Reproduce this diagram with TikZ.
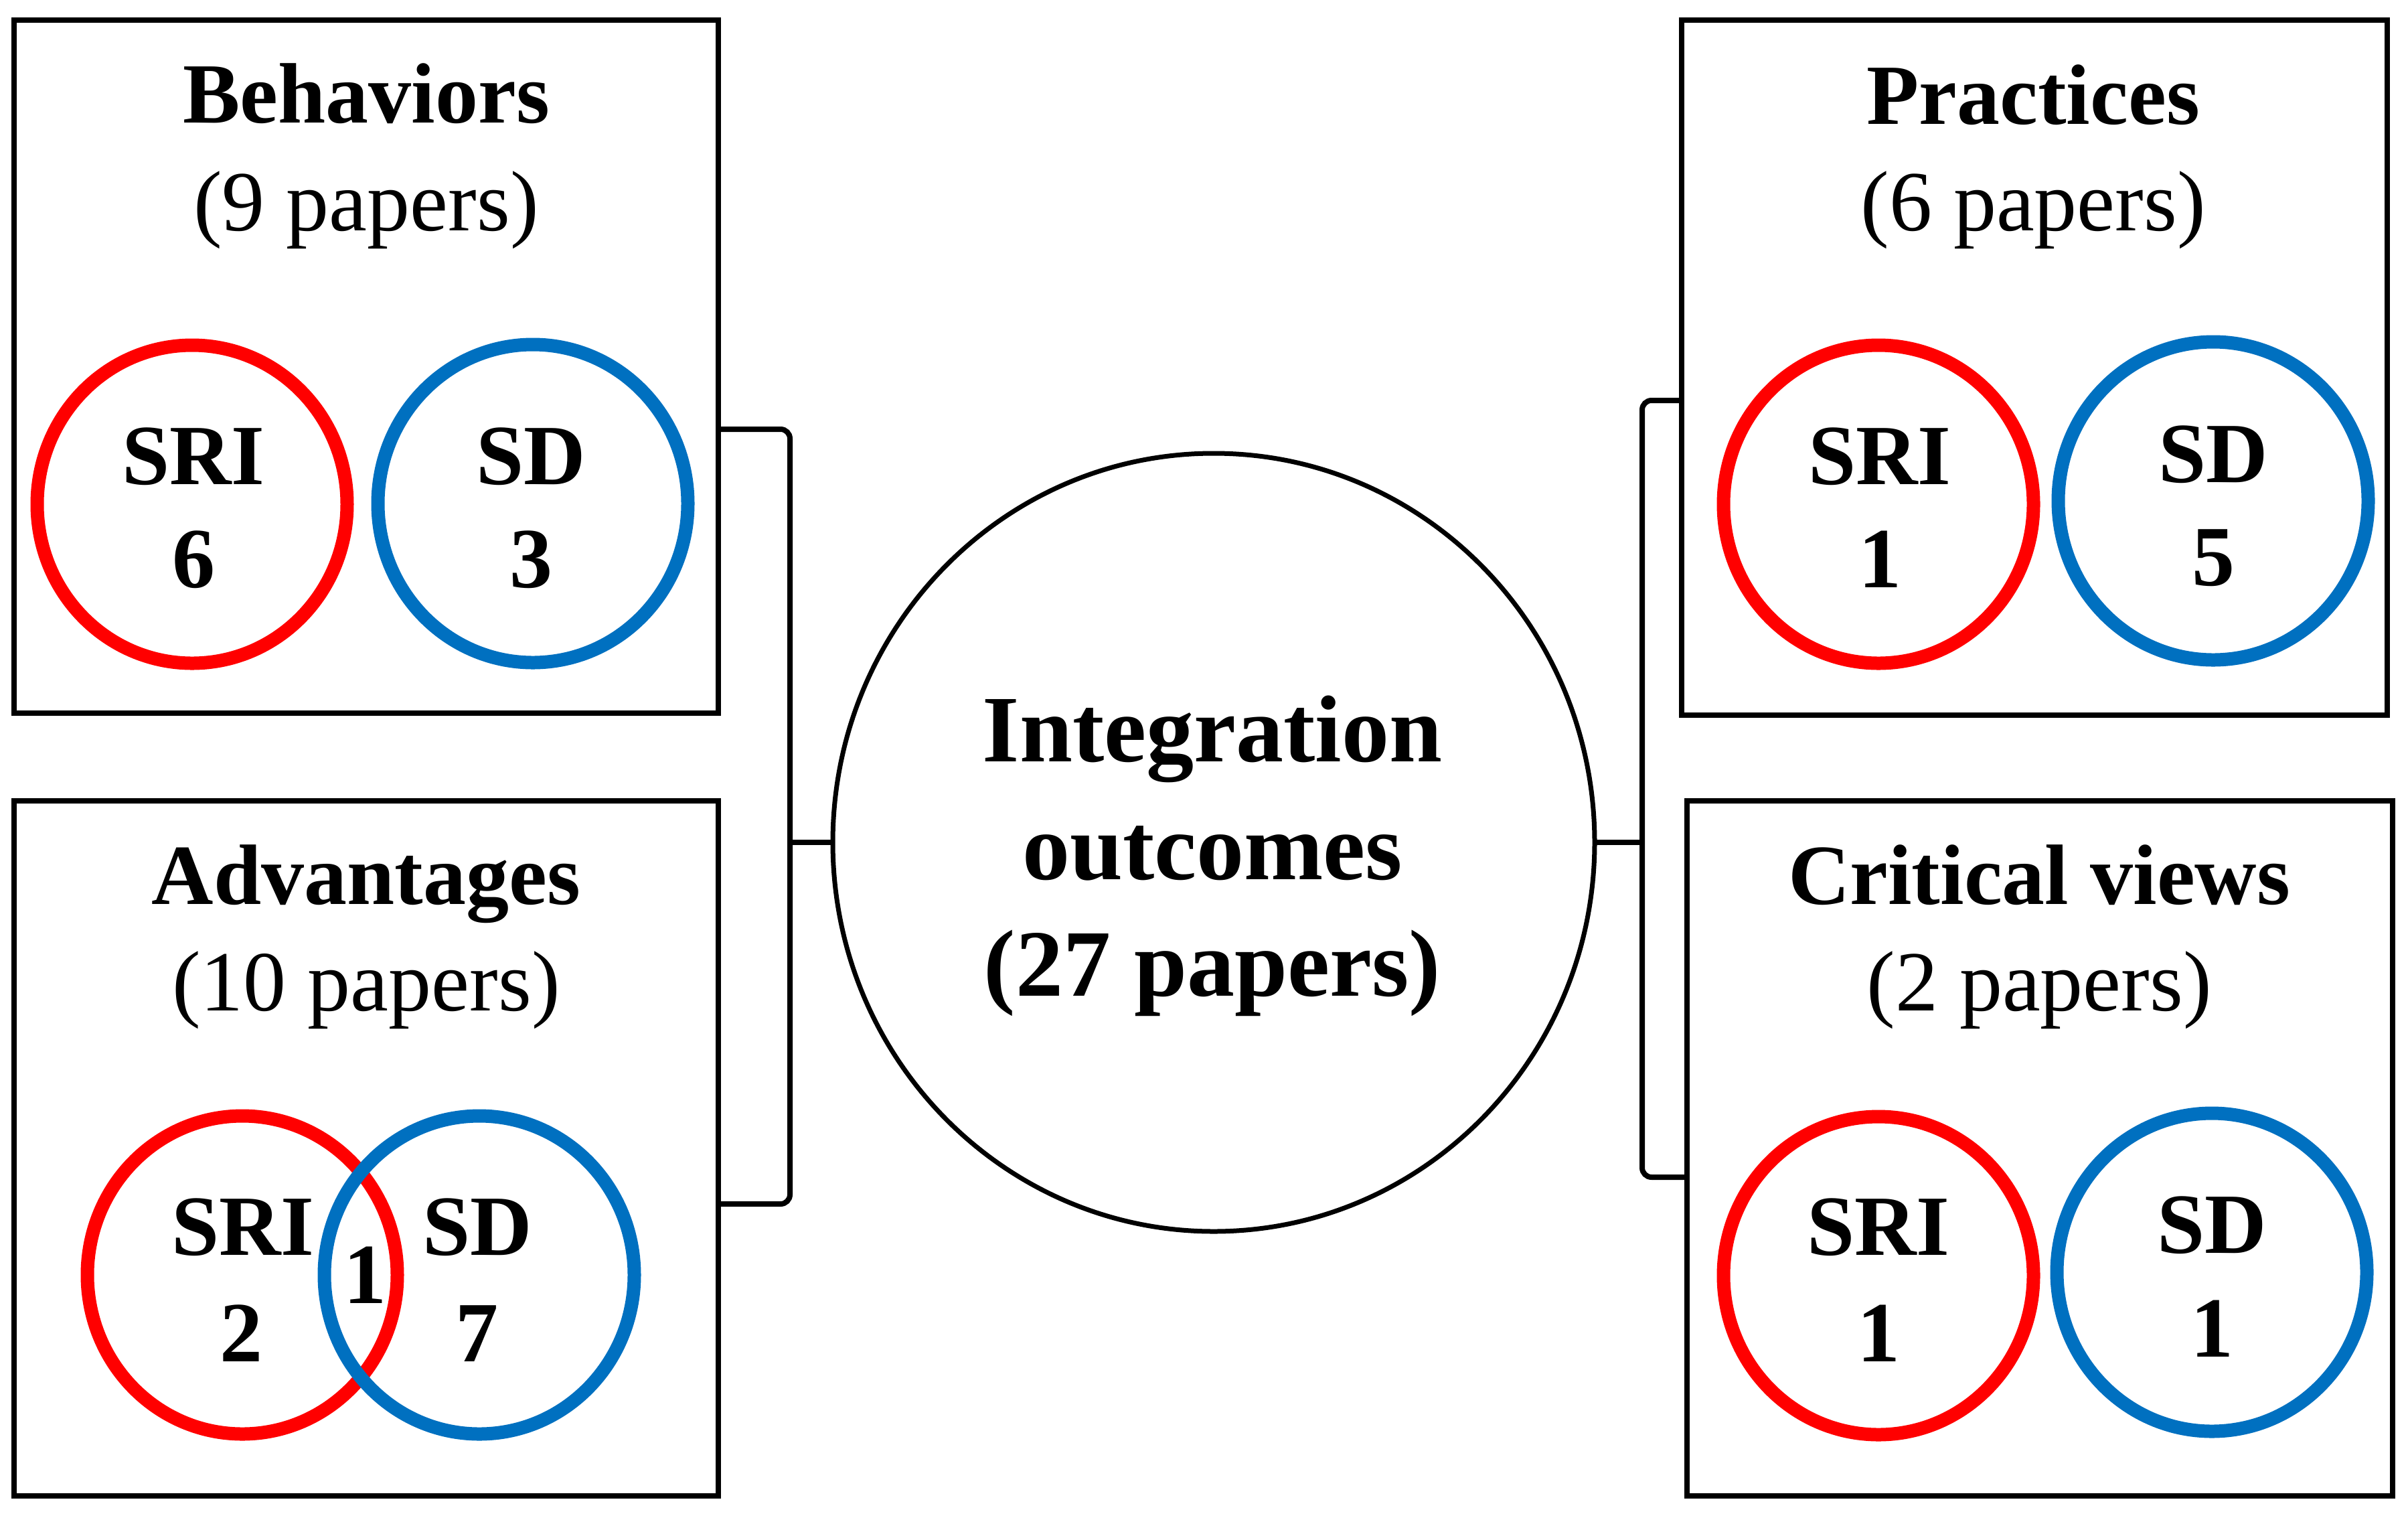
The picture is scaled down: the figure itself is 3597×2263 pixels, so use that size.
\documentclass[tikz,border=0pt]{standalone}
\usepackage{fontspec}
\setmainfont{Liberation Serif}
\usetikzlibrary{shapes.geometric}
\definecolor{srired}{RGB}{255,0,0}
\definecolor{sdblue}{RGB}{0,112,192}
\begin{document}
\begin{tikzpicture}[x=1pt,y=-1pt,
  panelbox/.style={draw, rectangle, line width=8pt, inner sep=0pt, outer sep=0pt},
  ringred/.style={ellipse, draw=srired, line width=20pt, inner sep=0pt, outer sep=0pt, minimum width=463pt, minimum height=475pt},
  ringblue/.style={ellipse, draw=sdblue, line width=20pt, inner sep=0pt, outer sep=0pt, minimum width=463pt, minimum height=475pt},
  lbl/.style={anchor=base, inner sep=0pt, font=\fontsize{128}{150}\selectfont\bfseries},
  sublbl/.style={anchor=base, inner sep=0pt, font=\fontsize{128}{150}\selectfont},
  biglbl/.style={anchor=base, inner sep=0pt, font=\fontsize{142}{170}\selectfont\bfseries},
  link/.style={line width=8pt, rounded corners=14pt}]
\useasboundingbox (0,0) rectangle (3597,2263);

% panels
\node[panelbox, minimum width=1052pt, minimum height=1035pt] (b1) at (547,547.5) {};
\node[panelbox, minimum width=1052pt, minimum height=1038pt] (b2) at (547,1715) {};
\node[panelbox, minimum width=1054pt, minimum height=1038pt] (b3) at (3039,549) {};
\node[panelbox, minimum width=1054pt, minimum height=1038pt] (b4) at (3047,1715) {};

% hub
\node[ellipse, draw, line width=7pt, inner sep=0pt, outer sep=0pt, minimum width=1138pt, minimum height=1162pt] (hub) at (1813,1258) {};
\node[biglbl] (h1) at (1811,1137) {Integration};
\node[biglbl] (h2) at (1811,1313) {outcomes};
\node[biglbl] (h3) at (1811,1487) {(27 papers)};

% connectors
\coordinate (lt) at (1180,641);
\coordinate (lb) at (1180,1798);
\coordinate (lm) at (1180,1258);
\draw[link] (b1.east |- lt) -- (lt) -- (lb) -- (b2.east |- lb);
\draw[link] (lm) -- (hub.west);
\coordinate (rt) at (2453,598);
\coordinate (rb) at (2453,1758);
\coordinate (rm) at (2453,1258);
\draw[link] (b3.west |- rt) -- (rt) -- (rb) -- (b4.west |- rb);
\draw[link] (hub.east) -- (rm);

% Behaviors
\node[lbl] (t1) at (547,183) {Behaviors};
\node[sublbl] (s1) at (547,344) {(9 papers)};
\node[ringred] (r1) at (287,753) {};
\node[ringblue] (u1) at (796,752) {};
\node[lbl] (r1a) at (289,723) {SRI};
\node[lbl] (r1b) at (289,877) {6};
\node[lbl] (u1a) at (793,723) {SD};
\node[lbl] (u1b) at (793,877) {3};

% Advantages
\node[lbl] (t2) at (547,1350) {Advantages};
\node[sublbl] (s2) at (547,1509) {(10 papers)};
\node[ringred] (r2) at (362,1904) {};
\node[ringblue] (u2) at (716,1904) {};
\node[lbl] (r2a) at (363,1874) {SRI};
\node[lbl] (r2b) at (360,2033) {2};
\node[lbl] (o2) at (545,1946) {1};
\node[lbl] (u2a) at (713,1874) {SD};
\node[lbl] (u2b) at (712,2033) {7};

% Practices
\node[lbl] (t3) at (3037,185) {Practices};
\node[sublbl] (s3) at (3037,344) {(6 papers)};
\node[ringred] (r3) at (2806,753) {};
\node[ringblue] (u3) at (3306,748) {};
\node[lbl] (r3a) at (2808,723) {SRI};
\node[lbl] (r3b) at (2808,877) {1};
\node[lbl] (u3a) at (3306,720) {SD};
\node[lbl] (u3b) at (3306,874) {5};

% Critical views
\node[lbl] (t4) at (3046,1350) {Critical views};
\node[sublbl] (s4) at (3046,1509) {(2 papers)};
\node[ringred] (r4) at (2806,1905) {};
\node[ringblue] (u4) at (3304,1900) {};
\node[lbl] (r4a) at (2806,1874) {SRI};
\node[lbl] (r4b) at (2806,2033) {1};
\node[lbl] (u4a) at (3304,1871) {SD};
\node[lbl] (u4b) at (3304,2026) {1};
\end{tikzpicture}
\end{document}
